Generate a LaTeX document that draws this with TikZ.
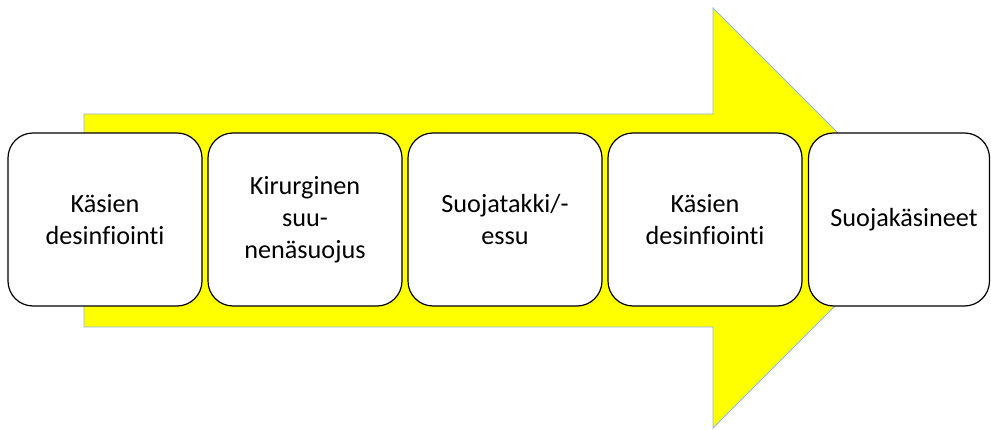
\documentclass[tikz,border=0pt]{standalone}
\usepackage{fontspec}
\setmainfont{Carlito}[Ligatures=CommonOff]
\definecolor{arrowyellow}{HTML}{FFFF00}
\definecolor{arrowedge}{HTML}{8EB4E3}
\begin{document}
\begin{tikzpicture}[x=1pt,y=-1pt,
  stepbox/.style={draw=black, line width=1.2pt, fill=white, rounded corners=25pt,
    minimum height=173pt, inner sep=0pt, align=center,
    font=\fontsize{26.2}{32}\selectfont},
  bigarrow/.style={fill=arrowyellow, draw=arrowedge, line width=0.8pt}]
\useasboundingbox (0,0) rectangle (991,430);
\draw[bigarrow] (84,114) -- (713,114) -- (713,8) -- (923,218) -- (713,428) -- (713,327) -- (84,327) -- cycle;
\node[stepbox, minimum width=194pt] (b1) at (105,219.5) {Käsien\\desinfiointi};
\node[stepbox, minimum width=194pt] (b2) at (305,219.5) {Kirurginen\\suu-\\nenäsuojus};
\node[stepbox, minimum width=194pt] (b3) at (505,219.5) {Suojatakki/-\\essu};
\node[stepbox, minimum width=194pt] (b4) at (705,219.5) {Käsien\\desinfiointi};
\node[stepbox, minimum width=181pt] (b5) at (899,219.5) {\hspace*{10pt}Suojakäsineet};
\end{tikzpicture}
\end{document}
